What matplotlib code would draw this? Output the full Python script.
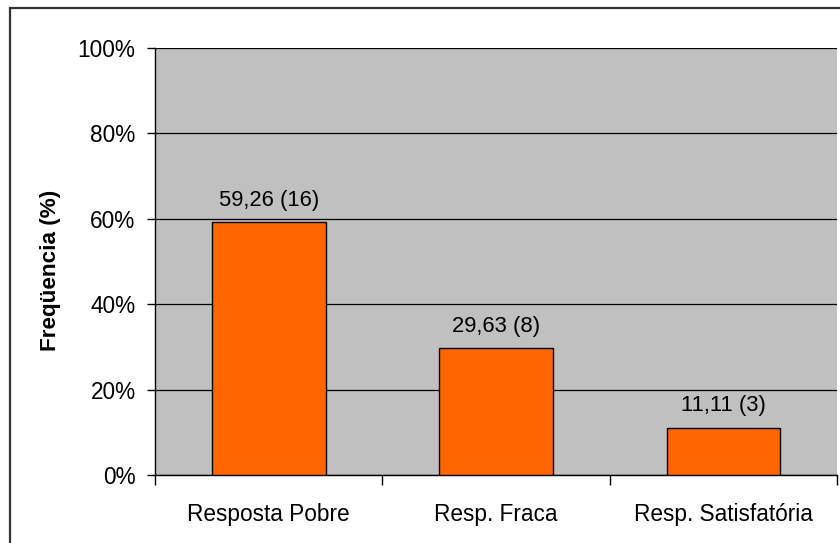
import matplotlib
matplotlib.use('Agg')
import matplotlib.pyplot as plt
from matplotlib.patches import Rectangle
from matplotlib.ticker import FixedLocator

categorias = ['Resposta Pobre', 'Resp. Fraca', 'Resp. Satisfatória']
frequencia = [59.26, 29.63, 11.11]
contagem = [16, 8, 3]
rotulos = ['59,26 (16)', '29,63 (8)', '11,11 (3)']
yticks = [0, 20, 40, 60, 80, 100]
ytick_labels = ['0%', '20%', '40%', '60%', '80%', '100%']

plt.rcParams['font.family'] = ['Liberation Sans', 'DejaVu Sans']

W, H = 840, 543
fig = plt.figure(figsize=(W / 100, H / 100), dpi=100)
fig.patch.set_facecolor('white')

# moldura externa do gráfico (só as bordas de cima e da esquerda aparecem)
fig.patches.append(Rectangle((10 / W, -20 / H), 900 / W, (H - 8 + 20) / H,
                             transform=fig.transFigure, fill=False,
                             edgecolor='#333333', linewidth=1.6))

ax = fig.add_axes([155 / W, 1 - 475 / H, (837 - 155) / W, (475 - 48) / H])
ax.set_facecolor('#C0C0C0')

x = range(len(categorias))
ax.bar(x, frequencia, width=0.5, color='#FF6600', edgecolor='black',
       linewidth=1.0, zorder=3)

for xi, v, r in zip(x, frequencia, rotulos):
    ax.annotate(r, (xi, v), xytext=(0, 8), textcoords='offset points',
                ha='center', va='bottom', fontsize=15.8)

ax.set_xlim(-0.5, 2.5)
ax.set_ylim(0, 100)
ax.set_yticks(yticks)
ax.set_yticklabels(ytick_labels, fontsize=16.3)
ax.yaxis.grid(True, color='black', linewidth=0.9, zorder=1)
ax.set_axisbelow(True)

ax.set_xticks(list(x))
ax.set_xticklabels(categorias, fontsize=16.3)
ax.xaxis.set_minor_locator(FixedLocator([-0.5, 0.5, 1.5, 2.5]))
ax.tick_params(axis='x', which='major', length=0, pad=20)
ax.tick_params(axis='x', which='minor', length=7, width=1, direction='out')
ax.tick_params(axis='y', length=6, width=1, direction='out', pad=8)

for s in ['top', 'right']:
    ax.spines[s].set_visible(False)
for s in ['left', 'bottom']:
    ax.spines[s].set_color('black')
    ax.spines[s].set_linewidth(1.0)

fig.text(51 / W, 1 - 270 / H, 'Freqüencia (%)', rotation=90,
         ha='center', va='center', fontsize=16.2, fontweight='bold')

fig.savefig('out.png', dpi=100)
